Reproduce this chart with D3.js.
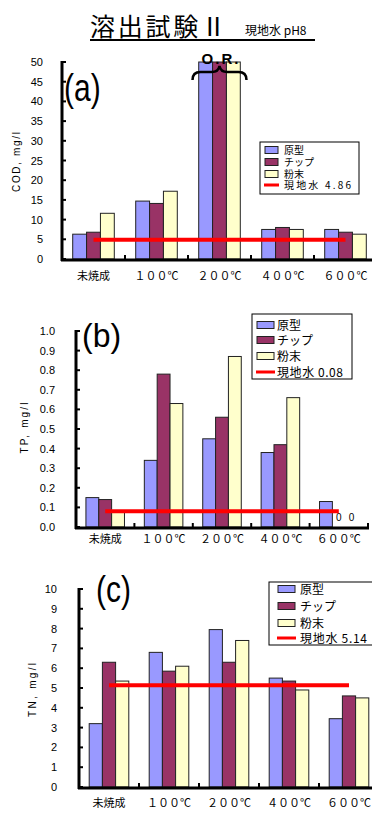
<!DOCTYPE html>
<html>
<head>
<meta charset="utf-8">
<script src="https://cdn.jsdelivr.net/npm/d3@7"></script>
<style>
  body { margin: 0; background: #fff; }
  svg { display: block; }
</style>
</head>
<body>
<svg id="chart" width="372" height="814"></svg>
<script>
// categories and series
const categories = ['未焼成', '１００℃', '２００℃', '４００℃', '６００℃'];
const seriesNames = ['原型', 'チップ', '粉末'];
const seriesColors = ['#9999ff', '#993366', '#ffffcc'];

// (a) COD mg/l  (200℃ is over range -> drawn at axis max)
const codGenkei = [6.3, 14.7, 50, 7.5, 7.5];
const codChip = [6.8, 14.1, 50, 8.0, 6.8];
const codFunmatsu = [11.6, 17.2, 50, 7.5, 6.3];
const codRef = 4.86;
const codTicks = [0, 5, 10, 15, 20, 25, 30, 35, 40, 45, 50];

// (b) TP mg/l
const tpGenkei = [0.15, 0.34, 0.45, 0.38, 0.13];
const tpChip = [0.14, 0.78, 0.56, 0.42, 0];
const tpFunmatsu = [0.08, 0.63, 0.87, 0.66, 0];
const tpRef = 0.08;
const tpTicks = [0, 0.1, 0.2, 0.3, 0.4, 0.5, 0.6, 0.7, 0.8, 0.9, 1.0];

// (c) TN mg/l
const tnGenkei = [3.2, 6.8, 7.95, 5.5, 3.45];
const tnChip = [6.3, 5.85, 6.3, 5.35, 4.6];
const tnFunmatsu = [5.35, 6.1, 7.4, 4.9, 4.5];
const tnRef = 5.14;
const tnTicks = [0, 1, 2, 3, 4, 5, 6, 7, 8, 9, 10];

const svg = d3.select('#chart');
const jp = '"Noto Sans CJK JP", "Noto Sans", sans-serif';
const num = '"Liberation Sans", Arial, sans-serif';

// title
svg.append('text')
    .attr('x', 90).attr('y', 36)
    .attr('font-family', jp).attr('font-size', 25)
    .attr('textLength', 136).attr('lengthAdjust', 'spacing')
    .text('溶出試験Ⅱ');
svg.append('text')
    .attr('x', 245).attr('y', 35)
    .attr('font-family', jp).attr('font-size', 12)
    .text('現地水 pH8');
svg.append('line')
    .attr('x1', 90).attr('x2', 315).attr('y1', 40).attr('y2', 40)
    .attr('stroke', '#000').attr('stroke-width', 2);

function drawPanel(cfg) {
    let g = svg.append('g');
    let values = [cfg.s0, cfg.s1, cfg.s2];
    let y = d3.scaleLinear().domain([0, cfg.max]).range([cfg.yBottom, cfg.yTop]);
    let x = d3.scaleBand().domain(categories).range([cfg.xLeft, cfg.xRight]);
    let bw = x.bandwidth();
    let groupW = bw * 0.66;
    let xs = d3.scaleBand().domain(d3.range(3)).range([(bw - groupW) / 2, (bw + groupW) / 2]);

    // bars
    for (let s = 0; s < 3; s++) {
        g.selectAll('rect.s' + s)
            .data(values[s])
            .enter()
            .append('rect')
            .attr('x', (d, i) => x(categories[i]) + xs(s))
            .attr('y', d => y(d))
            .attr('width', xs.bandwidth())
            .attr('height', d => y(0) - y(d))
            .attr('fill', seriesColors[s])
            .attr('stroke', d => d > 0 ? '#222' : 'none')
            .attr('stroke-width', 1);
    }

    // zero labels
    if (cfg.zeroLabels) {
        for (let s = 1; s < 3; s++) {
            values[s].forEach((d, i) => {
                if (d === 0) {
                    g.append('text')
                        .attr('x', x(categories[i]) + xs(s) + xs.bandwidth() / 2)
                        .attr('y', y(0) - 6)
                        .attr('text-anchor', 'middle')
                        .attr('font-family', num).attr('font-size', 10)
                        .text('0');
                }
            });
        }
    }

    // reference line
    g.append('line')
        .attr('x1', x(categories[0]) + bw / 2)
        .attr('x2', x(categories[4]) + bw / 2)
        .attr('y1', y(cfg.ref)).attr('y2', y(cfg.ref))
        .attr('stroke', '#ff0000').attr('stroke-width', 4);

    // y axis
    g.append('line')
        .attr('x1', cfg.xLeft).attr('x2', cfg.xLeft)
        .attr('y1', cfg.yTop - 1).attr('y2', cfg.yBottom + 2)
        .attr('stroke', '#000').attr('stroke-width', 3);
    g.selectAll('line.yt')
        .data(cfg.ticks)
        .enter()
        .append('line')
        .attr('x1', cfg.xLeft).attr('x2', cfg.xLeft + 4)
        .attr('y1', d => y(d)).attr('y2', d => y(d))
        .attr('stroke', '#000').attr('stroke-width', 2);
    g.selectAll('text.yl')
        .data(cfg.ticks)
        .enter()
        .append('text')
        .attr('x', cfg.xLeft - cfg.labelGap)
        .attr('y', d => y(d) + 4)
        .attr('text-anchor', 'end')
        .attr('font-family', num).attr('font-size', 11)
        .text(cfg.fmt);

    // x axis
    g.append('line')
        .attr('x1', cfg.xLeft - 1).attr('x2', cfg.xAxisEnd)
        .attr('y1', cfg.yBottom + 1).attr('y2', cfg.yBottom + 1)
        .attr('stroke', '#000').attr('stroke-width', 3);
    g.selectAll('line.xt')
        .data(categories.slice(1).concat(cfg.lastTick ? ['end'] : []))
        .enter()
        .append('line')
        .attr('x1', d => d === 'end' ? cfg.xRight : x(d))
        .attr('x2', d => d === 'end' ? cfg.xRight : x(d))
        .attr('y1', cfg.yBottom + 1).attr('y2', cfg.yBottom - 4)
        .attr('stroke', '#000').attr('stroke-width', 2);
    g.selectAll('text.xl')
        .data(categories)
        .enter()
        .append('text')
        .attr('x', d => x(d) + bw / 2)
        .attr('y', cfg.yBottom + cfg.xLabelDy)
        .attr('text-anchor', 'middle')
        .attr('font-family', jp).attr('font-size', 11)
        .text(d => d);

    // y title
    g.append('text')
        .attr('transform', `translate(${cfg.titleX},${cfg.titleY}) rotate(-90)`)
        .attr('text-anchor', 'middle')
        .attr('font-family', num).attr('font-size', 10)
        .attr('textLength', cfg.titleLen).attr('lengthAdjust', 'spacing')
        .text(cfg.yTitle);

    // panel label
    g.append('text')
        .attr('transform', `translate(${cfg.tagX},${cfg.tagY}) scale(1,${cfg.tagSy})`)
        .attr('font-family', num).attr('font-size', cfg.tagSize)
        .text(cfg.tag);

    // legend
    let L = cfg.legend;
    let lg = g.append('g');
    lg.append('rect')
        .attr('x', L.x).attr('y', L.y).attr('width', L.w).attr('height', L.h)
        .attr('fill', '#fff').attr('stroke', '#000').attr('stroke-width', 1);
    seriesNames.forEach((name, i) => {
        lg.append('rect')
            .attr('x', L.sx).attr('y', L.rows[i] - 3.5)
            .attr('width', L.sw).attr('height', 7)
            .attr('fill', seriesColors[i]).attr('stroke', '#222');
        lg.append('text')
            .attr('x', L.tx).attr('y', L.rows[i] + L.fs * 0.38)
            .attr('font-family', jp).attr('font-size', L.fs)
            .text(name);
    });
    lg.append('line')
        .attr('x1', L.sx - 1).attr('x2', L.sx + L.sw + 1)
        .attr('y1', L.rows[3]).attr('y2', L.rows[3])
        .attr('stroke', '#ff0000').attr('stroke-width', 3);
    lg.append('text')
        .attr('x', L.tx).attr('y', L.rows[3] + L.fs * 0.38)
        .attr('font-family', jp).attr('font-size', L.fs)
        .attr('textLength', L.refLen).attr('lengthAdjust', 'spacing')
        .text('現地水 ' + cfg.refText);

    return { x: x, y: y, xs: xs };
}

let pa = drawPanel({
    s0: codGenkei, s1: codChip, s2: codFunmatsu, ref: codRef, refText: '4.86',
    max: 50, ticks: codTicks, fmt: d => d3.format('d')(d),
    yTop: 62, yBottom: 259, xLeft: 62, xRight: 377, xAxisEnd: 374,
    labelGap: 19, xLabelDy: 21, lastTick: false,
    yTitle: 'COD, mg/l', titleX: 20, titleY: 162, titleLen: 60,
    tag: '(a)', tagX: 64, tagY: 101, tagSize: 30, tagSy: 1.3,
    legend: { x: 260, y: 142, w: 99, h: 52, sx: 265, sw: 13, tx: 284, fs: 10, refLen: 67, rows: [150, 162, 174, 185] }
});

// O.R. mark above the 200℃ group
let orCx = pa.x(categories[2]) + pa.x.bandwidth() / 2;
svg.append('text')
    .attr('x', orCx - 18).attr('y', 64)
    .attr('font-family', num).attr('font-size', 15).attr('font-weight', 'bold')
    .attr('textLength', 37).attr('lengthAdjust', 'spacing')
    .text('O.R.');
svg.append('path')
    .attr('d', `M${orCx - 27},80 Q${orCx - 27},72 ${orCx - 19},72 L${orCx - 8},72 Q${orCx - 1},72 ${orCx},66 ` +
               `Q${orCx + 1},72 ${orCx + 8},72 L${orCx + 19},72 Q${orCx + 27},72 ${orCx + 27},80`)
    .attr('fill', 'none').attr('stroke', '#000').attr('stroke-width', 2.5);

drawPanel({
    s0: tpGenkei, s1: tpChip, s2: tpFunmatsu, ref: tpRef, refText: '0.08',
    max: 1.0, ticks: tpTicks, fmt: d => d3.format('.1f')(d), zeroLabels: true,
    yTop: 331, yBottom: 527, xLeft: 76, xRight: 368, xAxisEnd: 369,
    labelGap: 21, xLabelDy: 16, lastTick: true,
    yTitle: 'TP, mg/l', titleX: 28, titleY: 428, titleLen: 51,
    tag: '(b)', tagX: 82, tagY: 347, tagSize: 32, tagSy: 1.05,
    legend: { x: 252, y: 314, w: 100, h: 65, sx: 257, sw: 17, tx: 277, fs: 12, refLen: 66, rows: [325, 340, 356, 372] }
});

drawPanel({
    s0: tnGenkei, s1: tnChip, s2: tnFunmatsu, ref: tnRef, refText: '5.14',
    max: 10, ticks: tnTicks, fmt: d => d3.format('d')(d),
    yTop: 589, yBottom: 787, xLeft: 79, xRight: 379, xAxisEnd: 374,
    labelGap: 22, xLabelDy: 20, lastTick: false,
    yTitle: 'TN, mg/l', titleX: 36, titleY: 690, titleLen: 54,
    tag: '(c)', tagX: 96, tagY: 602, tagSize: 30, tagSy: 1.25,
    legend: { x: 269, y: 582, w: 104, h: 63, sx: 278, sw: 17, tx: 300, fs: 12, refLen: 67, rows: [589, 606, 623, 638] }
});
</script>
</body>
</html>
